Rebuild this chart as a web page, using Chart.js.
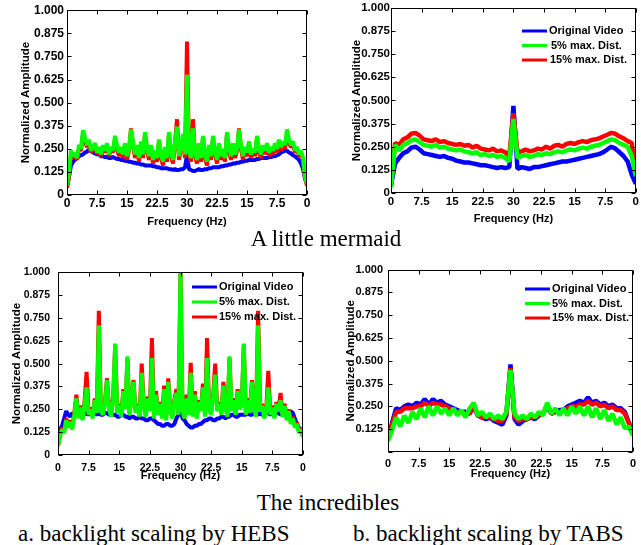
<!DOCTYPE html>
<html>
<head>
<meta charset="utf-8">
<script src="https://cdn.jsdelivr.net/npm/chart.js@4.4.0/dist/chart.umd.min.js"></script>
<style>
body { margin: 0; background: #fff; }
#page { position: relative; width: 641px; height: 545px; overflow: hidden; background: #fff; }
#page canvas { position: absolute; }
.cap { position: absolute; font-family: "Liberation Serif", "Times New Roman", serif; font-size: 23px; line-height: 23px; white-space: nowrap; color: #000; }
</style>
</head>
<body>
<div id="page">
  <canvas id="p1" width="320" height="230" style="left:0;top:0"></canvas>
  <canvas id="p2" width="321" height="230" style="left:320px;top:0"></canvas>
  <canvas id="p3" width="320" height="228" style="left:0;top:258px"></canvas>
  <canvas id="p4" width="321" height="228" style="left:320px;top:258px"></canvas>
  <div class="cap" style="left:0;width:652px;text-align:center;top:227px">A little mermaid</div>
  <div class="cap" style="left:0;width:656px;text-align:center;top:491px">The incredibles</div>
  <div class="cap" style="left:18px;top:522px">a. backlight scaling by HEBS</div>
  <div class="cap" style="left:353px;top:522px">b. backlight scaling by TABS</div>
</div>
<script>
// -----------------------------
// DATA
// -----------------------------
// bin positions on the folded axis (0 .. 30 .. 0 Hz drawn as 0 .. 60)
const binPos = [0,1,2,3,4,5,6,7,8,9,10,11,12,13,14,15,16,17,18,19,20,21,22,23,24,25,26,27,28,29,30,
    31,32,33,34,35,36,37,38,39,40,41,42,43,44,45,46,47,48,49,50,51,52,53,54,55,56,57,58,59,60];
const binPosFine = [0,0.5,1,1.5,2,2.5,3,3.5,4,4.5, 5,5.5,6,6.5,7,7.5,8,8.5,9,9.5,
    10,10.5,11,11.5,12,12.5,13,13.5,14,14.5, 15,15.5,16,16.5,17,17.5,18,18.5,19,19.5,
    20,20.5,21,21.5,22,22.5,23,23.5,24,24.5, 25,25.5,26,26.5,27,27.5,28,28.5,29,29.5,
    30,30.5,31,31.5,32,32.5,33,33.5,34,34.5, 35,35.5,36,36.5,37,37.5,38,38.5,39,39.5,
    40,40.5,41,41.5,42,42.5,43,43.5,44,44.5, 45,45.5,46,46.5,47,47.5,48,48.5,49,49.5,
    50,50.5,51,51.5,52,52.5,53,53.5,54,54.5, 55,55.5,56,56.5,57,57.5,58,58.5,59,59.5, 60];
const xTickLabels = ["0", "7.5", "15", "22.5", "30", "22.5", "15", "7.5", "0"];
const seriesNames = ["Original Video", "5% max. Dist.", "15% max. Dist."];

// A little mermaid, HEBS (fine bins)
const mermaidHebsOrig = [
    0.04,0.1,0.16,0.18,0.19,0.2,0.21,0.215,0.22,0.23,
    0.235,0.245,0.24,0.23,0.225,0.22,0.22,0.21,0.21,0.205,
    0.205,0.2,0.2,0.205,0.2,0.195,0.195,0.19,0.19,0.185,
    0.185,0.18,0.18,0.175,0.175,0.17,0.17,0.165,0.165,0.16,
    0.16,0.16,0.16,0.155,0.155,0.15,0.15,0.145,0.145,0.145,
    0.145,0.14,0.14,0.135,0.14,0.135,0.135,0.14,0.14,0.15,
    0.215,0.14,0.135,0.13,0.13,0.135,0.14,0.135,0.135,0.14,
    0.14,0.145,0.145,0.15,0.15,0.15,0.15,0.155,0.155,0.16,
    0.16,0.165,0.165,0.17,0.17,0.175,0.175,0.18,0.18,0.185,
    0.185,0.19,0.19,0.19,0.19,0.195,0.195,0.2,0.2,0.2,
    0.2,0.205,0.205,0.21,0.21,0.215,0.22,0.23,0.235,0.24,
    0.24,0.23,0.225,0.215,0.21,0.2,0.19,0.17,0.14,0.09,
    0.07];
const mermaidHebs5 = [
    0.05,0.12,0.24,0.21,0.23,0.2,0.27,0.25,0.35,0.31,
    0.27,0.3,0.24,0.26,0.28,0.23,0.26,0.22,0.27,0.24,
    0.28,0.22,0.26,0.24,0.32,0.27,0.23,0.26,0.22,0.28,
    0.21,0.25,0.355,0.29,0.22,0.27,0.2,0.29,0.22,0.34,
    0.26,0.21,0.27,0.19,0.24,0.2,0.3,0.22,0.18,0.26,
    0.2,0.34,0.23,0.19,0.29,0.37,0.21,0.26,0.33,0.22,
    0.65,0.24,0.2,0.36,0.23,0.19,0.28,0.2,0.32,0.22,
    0.18,0.27,0.21,0.32,0.24,0.19,0.28,0.21,0.25,0.2,
    0.34,0.26,0.21,0.28,0.22,0.25,0.355,0.27,0.21,0.26,
    0.23,0.29,0.22,0.25,0.23,0.32,0.25,0.22,0.27,0.24,
    0.28,0.23,0.26,0.24,0.28,0.25,0.3,0.26,0.29,0.27,
    0.355,0.3,0.27,0.29,0.24,0.26,0.22,0.24,0.2,0.1,
    0.06];
const mermaidHebs15 = [
    0.04,0.1,0.22,0.2,0.22,0.19,0.25,0.24,0.33,0.29,
    0.26,0.28,0.23,0.25,0.27,0.22,0.25,0.21,0.26,0.23,
    0.27,0.21,0.25,0.23,0.3,0.25,0.21,0.25,0.2,0.27,
    0.19,0.24,0.36,0.27,0.2,0.26,0.18,0.28,0.2,0.33,
    0.24,0.19,0.26,0.17,0.23,0.18,0.29,0.2,0.16,0.25,
    0.18,0.33,0.21,0.17,0.28,0.41,0.19,0.25,0.3,0.2,
    0.83,0.22,0.18,0.41,0.21,0.17,0.27,0.18,0.31,0.2,
    0.16,0.26,0.19,0.31,0.22,0.17,0.27,0.19,0.24,0.18,
    0.33,0.24,0.19,0.27,0.2,0.24,0.36,0.25,0.19,0.25,
    0.21,0.28,0.2,0.24,0.21,0.31,0.23,0.2,0.26,0.22,
    0.27,0.21,0.25,0.22,0.27,0.23,0.29,0.24,0.28,0.25,
    0.33,0.28,0.26,0.27,0.23,0.25,0.21,0.23,0.19,0.09,
    0.05];

// A little mermaid, TABS
const mermaidTabsOrig = [0.04,0.16,0.19,0.215,0.225,0.245,0.25,0.235,0.215,0.21,0.205,0.2,0.195,0.2,0.19,0.185,
    0.175,0.17,0.165,0.165,0.16,0.155,0.15,0.15,0.145,0.14,0.135,0.14,0.135,0.14,0.47,
    0.13,0.14,0.135,0.13,0.14,0.14,0.145,0.15,0.155,0.16,0.165,0.17,0.17,0.175,0.18,
    0.185,0.19,0.195,0.2,0.205,0.21,0.22,0.235,0.25,0.24,0.22,0.2,0.17,0.1,0.05];
const mermaidTabs5 = [0.03,0.26,0.23,0.26,0.27,0.285,0.29,0.275,0.26,0.255,0.25,0.26,0.245,0.25,0.24,0.235,
    0.23,0.235,0.225,0.22,0.215,0.22,0.205,0.21,0.2,0.205,0.195,0.2,0.19,0.17,0.4,
    0.19,0.2,0.205,0.195,0.2,0.21,0.205,0.215,0.21,0.22,0.225,0.22,0.23,0.235,0.23,
    0.24,0.245,0.24,0.25,0.255,0.26,0.27,0.28,0.29,0.285,0.27,0.26,0.25,0.2,0.09];
const mermaidTabs15 = [0.04,0.27,0.26,0.29,0.3,0.32,0.325,0.31,0.29,0.285,0.28,0.29,0.275,0.28,0.27,0.265,
    0.26,0.265,0.255,0.26,0.245,0.255,0.24,0.235,0.23,0.24,0.225,0.23,0.22,0.2,0.43,
    0.22,0.225,0.235,0.225,0.23,0.24,0.235,0.25,0.24,0.255,0.26,0.25,0.265,0.27,0.265,
    0.275,0.28,0.275,0.285,0.29,0.295,0.305,0.315,0.325,0.32,0.305,0.295,0.28,0.27,0.1];

// The incredibles, HEBS (fine bins)
const incrHebsOrig = [
    0.12,0.14,0.16,0.2,0.24,0.22,0.21,0.23,0.22,0.23,
    0.22,0.23,0.23,0.22,0.23,0.22,0.23,0.22,0.23,0.22,
    0.23,0.22,0.22,0.23,0.23,0.22,0.22,0.22,0.22,0.21,
    0.21,0.22,0.22,0.21,0.21,0.2,0.21,0.21,0.2,0.2,
    0.21,0.2,0.2,0.19,0.19,0.2,0.2,0.19,0.18,0.17,
    0.17,0.16,0.16,0.17,0.17,0.16,0.16,0.17,0.2,0.22,
    0.26,0.2,0.19,0.17,0.16,0.15,0.15,0.16,0.16,0.17,
    0.17,0.18,0.19,0.19,0.2,0.2,0.19,0.19,0.2,0.2,
    0.21,0.21,0.2,0.21,0.21,0.22,0.22,0.21,0.21,0.22,
    0.22,0.22,0.22,0.23,0.22,0.22,0.23,0.23,0.22,0.23,
    0.22,0.22,0.23,0.23,0.22,0.23,0.22,0.23,0.23,0.22,
    0.23,0.23,0.22,0.23,0.24,0.23,0.2,0.17,0.15,0.13,
    0.11];
const incrHebs5 = [
    0.05,0.1,0.14,0.12,0.19,0.15,0.18,0.14,0.22,0.31,
    0.2,0.26,0.19,0.28,0.37,0.22,0.25,0.2,0.3,0.23,
    0.71,0.24,0.22,0.28,0.41,0.25,0.21,0.3,0.61,0.23,
    0.27,0.21,0.35,0.25,0.54,0.22,0.3,0.4,0.23,0.27,
    0.21,0.45,0.26,0.21,0.31,0.24,0.53,0.2,0.33,0.22,
    0.28,0.2,0.36,0.19,0.4,0.24,0.2,0.29,0.34,0.22,
    1.0,0.24,0.2,0.31,0.22,0.45,0.21,0.33,0.2,0.29,
    0.24,0.37,0.21,0.53,0.25,0.22,0.32,0.44,0.24,0.28,
    0.22,0.38,0.26,0.21,0.54,0.24,0.3,0.22,0.35,0.25,
    0.27,0.61,0.22,0.3,0.23,0.4,0.25,0.21,0.71,0.24,
    0.27,0.2,0.24,0.37,0.22,0.26,0.2,0.28,0.24,0.3,
    0.21,0.27,0.19,0.24,0.17,0.2,0.15,0.17,0.12,0.14,
    0.1];
const incrHebs15 = [
    0.05,0.11,0.15,0.13,0.2,0.16,0.19,0.15,0.23,0.33,
    0.21,0.27,0.2,0.29,0.455,0.23,0.26,0.21,0.31,0.24,
    0.79,0.25,0.23,0.29,0.42,0.26,0.22,0.31,0.6,0.24,
    0.28,0.22,0.36,0.26,0.53,0.23,0.31,0.41,0.24,0.28,
    0.22,0.5,0.27,0.22,0.32,0.25,0.64,0.21,0.35,0.23,
    0.29,0.21,0.38,0.2,0.42,0.25,0.21,0.3,0.36,0.23,
    1.0,0.25,0.21,0.33,0.23,0.505,0.22,0.35,0.21,0.3,
    0.25,0.39,0.22,0.64,0.26,0.23,0.33,0.5,0.25,0.29,
    0.23,0.4,0.27,0.22,0.53,0.25,0.31,0.23,0.36,0.26,
    0.28,0.6,0.23,0.31,0.24,0.41,0.26,0.22,0.79,0.25,
    0.28,0.21,0.25,0.46,0.23,0.27,0.21,0.29,0.25,0.34,
    0.22,0.28,0.2,0.25,0.18,0.21,0.16,0.18,0.13,0.15,
    0.1];

// The incredibles, TABS
const incrTabsOrig = [0.07,0.16,0.24,0.23,0.25,0.26,0.25,0.27,0.26,0.29,0.26,0.29,0.27,0.28,0.26,0.25,
    0.24,0.23,0.22,0.22,0.21,0.25,0.2,0.19,0.18,0.19,0.17,0.16,0.15,0.2,0.48,
    0.18,0.15,0.17,0.18,0.19,0.18,0.2,0.21,0.25,0.21,0.22,0.23,0.23,0.25,0.26,
    0.27,0.28,0.27,0.3,0.27,0.28,0.26,0.27,0.25,0.26,0.24,0.24,0.22,0.16,0.1];
const incrTabs5 = [0.06,0.12,0.19,0.14,0.2,0.16,0.22,0.18,0.24,0.19,0.25,0.2,0.25,0.21,0.24,0.2,
    0.24,0.2,0.23,0.19,0.24,0.27,0.2,0.22,0.19,0.21,0.18,0.2,0.18,0.22,0.45,
    0.21,0.18,0.2,0.18,0.21,0.19,0.22,0.2,0.27,0.21,0.24,0.2,0.24,0.2,0.25,
    0.21,0.25,0.2,0.25,0.19,0.24,0.18,0.23,0.17,0.21,0.15,0.19,0.13,0.14,0.09];
const incrTabs15 = [0.07,0.15,0.22,0.22,0.24,0.24,0.24,0.25,0.25,0.27,0.25,0.27,0.26,0.26,0.25,0.24,
    0.23,0.22,0.22,0.21,0.21,0.26,0.2,0.19,0.19,0.19,0.18,0.17,0.17,0.21,0.46,
    0.19,0.17,0.18,0.18,0.19,0.19,0.2,0.21,0.26,0.21,0.22,0.22,0.23,0.24,0.25,
    0.25,0.26,0.26,0.28,0.26,0.27,0.25,0.26,0.24,0.25,0.23,0.23,0.21,0.16,0.1];

const lineColors = ["#0000ff", "#00ff00", "#ff0000"];

// -----------------------------
// PLUGINS: matlab style box + inside legend
// -----------------------------
const frameTicks = {
    id: "frameTicks",
    afterDatasetsDraw(chart) {
        const { ctx, chartArea: a, scales } = chart;
        const L = Math.round(a.left) + 0.5, R = Math.round(a.right) - 0.5;
        const T = Math.round(a.top) + 0.5, B = Math.round(a.bottom) - 0.5;
        ctx.save();
        ctx.strokeStyle = "#000";
        ctx.lineWidth = 1;
        ctx.strokeRect(L, T, R - L, B - T);
        ctx.beginPath();
        scales.y.ticks.forEach(t => {
            const py = Math.round(scales.y.getPixelForValue(t.value)) + 0.5;
            ctx.moveTo(L, py); ctx.lineTo(L + 4, py);
            ctx.moveTo(R, py); ctx.lineTo(R - 4, py);
        });
        scales.x.ticks.forEach(t => {
            const px = Math.round(scales.x.getPixelForValue(t.value)) + 0.5;
            ctx.moveTo(px, B); ctx.lineTo(px, B - 4);
            ctx.moveTo(px, T); ctx.lineTo(px, T + 4);
        });
        ctx.stroke();
        ctx.restore();
    }
};

const boxLegend = {
    id: "boxLegend",
    afterDraw(chart, args, opts) {
        if (!opts || !opts.show) return;
        const ctx = chart.ctx;
        ctx.save();
        ctx.font = "bold 11px 'Liberation Sans', Arial, sans-serif";
        ctx.textBaseline = "middle";
        ctx.fillStyle = "#000";
        chart.data.datasets.forEach((ds, i) => {
            const y = opts.y + i * opts.gap;
            ctx.strokeStyle = ds.borderColor;
            ctx.lineWidth = 3;
            ctx.beginPath();
            ctx.moveTo(opts.x, y);
            ctx.lineTo(opts.x + 25, y);
            ctx.stroke();
            ctx.fillText(ds.label, opts.x + 27 + (opts.indent ? opts.indent[i] : 0), y);
        });
        ctx.restore();
    }
};

// -----------------------------
// PANEL
// -----------------------------
function makePanel(id, bins, orig, d5, d15, lay) {

    const font = size => ({ family: "'Liberation Sans', Arial, sans-serif", weight: "bold", size: size });

    return new Chart(document.getElementById(id), {
        type: "line",
        data: {
            labels: bins,
            datasets: [
                { label: seriesNames[0], data: orig, borderColor: lineColors[0], order: 3 },
                { label: seriesNames[1], data: d5, borderColor: lineColors[1], order: 1 },
                { label: seriesNames[2], data: d15, borderColor: lineColors[2], order: 2 }
            ]
        },
        options: {
            responsive: false,
            animation: false,
            events: [],
            layout: { padding: lay.pad },
            elements: {
                line: { borderWidth: lay.lw, tension: 0, fill: false, borderJoinStyle: "bevel" },
                point: { radius: 0 }
            },
            plugins: {
                legend: { display: false },
                tooltip: { enabled: false },
                boxLegend: lay.legend
            },
            scales: {
                x: {
                    type: "linear", min: 0, max: 60,
                    grid: { display: false, drawTicks: false }, border: { display: false },
                    afterFit: s => { s.height = lay.xh; },
                    ticks: {
                        stepSize: 7.5, autoSkip: false, maxRotation: 0, padding: lay.xtp,
                        color: "#000", font: font(lay.tf),
                        callback: (v, i) => xTickLabels[i]
                    },
                    title: { display: true, text: "Frequency (Hz)", color: "#000", font: font(11), padding: { top: 0, bottom: lay.xtb } }
                },
                y: {
                    min: 0, max: 1,
                    grid: { display: false, drawTicks: false }, border: { display: false },
                    afterFit: s => { s.width = lay.yw; },
                    ticks: {
                        stepSize: 0.125, padding: lay.ytp,
                        color: "#000", font: font(lay.tf),
                        callback: v => v === 0 ? (lay.noZero ? "" : "0") : v.toFixed(3)
                    },
                    title: { display: true, text: "Normalized Amplitude", color: "#000", font: font(11.5), padding: { top: lay.ytt, bottom: 0 } }
                }
            }
        },
        plugins: [frameTicks, boxLegend]
    });
}

// -----------------------------
// START
// -----------------------------
makePanel("p1", binPosFine, mermaidHebsOrig, mermaidHebs5, mermaidHebs15, {
    pad: { left: 0, top: 6, right: 13, bottom: 0 }, yw: 67, xh: 35, lw: 4,
    tf: 12, xtp: 1, ytp: 3, ytt: 19, xtb: 1.6, legend: { show: false }
});
makePanel("p2", binPos, mermaidTabsOrig, mermaidTabs5, mermaidTabs15, {
    pad: { left: 0, top: 6, right: 4, bottom: 0 }, yw: 71, xh: 37, lw: 4.5,
    tf: 11.5, xtp: 2, ytp: 1, ytt: 30, xtb: 4,
    legend: { show: true, x: 202, y: 31, gap: 14.5, indent: [0, 2, 1] }
});
makePanel("p3", binPosFine, incrHebsOrig, incrHebs5, incrHebs15, {
    pad: { left: 0, top: 10, right: 17, bottom: 0 }, yw: 58, xh: 31, lw: 4,
    tf: 10.5, xtp: 7, ytp: 8, ytt: 10, xtb: 3,
    legend: { show: true, x: 192, y: 29, gap: 15, indent: [0, 0, 0] }
});
makePanel("p4", binPos, incrTabsOrig, incrTabs5, incrTabs15, {
    pad: { left: 0, top: 11, right: 6, bottom: 0 }, yw: 68, xh: 34, noZero: true, lw: 4.5,
    tf: 11, xtp: 5, ytp: 5, ytt: 23.6, xtb: 5,
    legend: { show: true, x: 205, y: 31, gap: 14.5, indent: [0, 0, 0] }
});
</script>
</body>
</html>
